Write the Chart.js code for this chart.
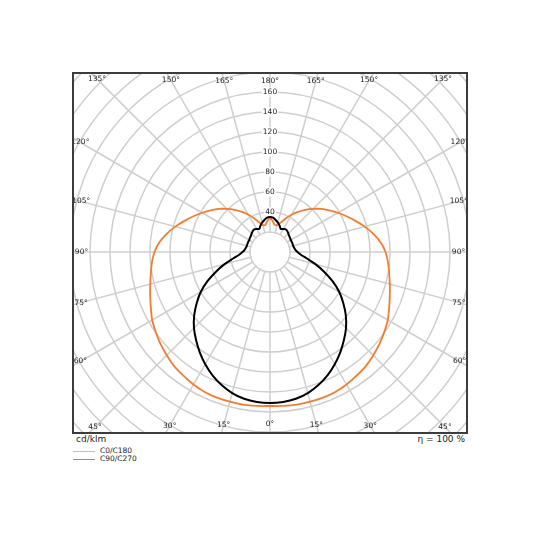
<!DOCTYPE html>
<html>
<head>
<meta charset="utf-8">
<script src="https://cdn.jsdelivr.net/npm/chart.js@4.4.0/dist/chart.umd.min.js"></script>
<style>
    body { margin: 0; width: 540px; height: 540px; background: #fff; position: relative; font-family: 'DejaVu Sans', sans-serif; color: #222; }
    #frame { position: absolute; left: 72px; top: 72px; width: 396px; height: 362px; box-sizing: border-box; border: 2px solid #3c3c3c; overflow: hidden; }
    #frame canvas { position: absolute; }
    .note { position: absolute; font-size: 9px; top: 434px; }
    .legend { position: absolute; left: 73px; top: 447px; font-size: 7.5px; line-height: 8.4px; }
    .legend div { display: flex; align-items: center; }
    .legend span.swatch { display: inline-block; width: 22px; height: 0; border-top: 1px solid; margin-right: 5px; }
</style>
</head>
<body>
<div id="frame"><canvas id="ldcChart" width="600" height="600"></canvas></div>
<div class="note" style="left:76px;">cd/klm</div>
<div class="note" style="right:75px;">η = 100 %</div>
<div class="legend">
    <div><span class="swatch" style="border-color:#f6b27e"></span>C0/C180</div>
    <div><span class="swatch" style="border-color:#7f92a8"></span>C90/C270</div>
</div>
<script>
// gamma angles 0..180 in 5 degree steps
const gammas = [0, 5, 10, 15, 20, 25, 30, 35, 40, 45, 50, 55, 60, 65, 70, 75, 80, 85, 90,
    95, 100, 105, 110, 115, 120, 125, 130, 135, 140, 145, 150, 155, 160, 165, 170, 175, 180];

// luminous intensity in cd/klm, one value per gamma angle
const c0c180 = [154, 154.5, 155, 155, 155, 154.5, 153, 151, 149, 146, 143, 139.5, 136, 131.5, 127.5, 124, 121, 118.5, 115.5,
    111, 105, 98, 91, 84.5, 78.5, 72.5, 67, 61, 55, 49, 43, 37, 31.5, 28, 27.5, 31, 34];
const c90c270 = [151, 150.5, 149, 146, 141.5, 136, 129.5, 122.5, 115, 107.5, 99, 89.5, 80, 69, 57.5, 47, 37.5, 31, 27.5,
    25.5, 24.5, 24, 24, 24, 24, 24.5, 25, 26, 27, 27.5, 26.5, 25.5, 28, 30.5, 32.5, 34.5, 35];

const tickValues = [40, 60, 80, 100, 120, 140, 160];
const labelStep = 15;
const holeValue = 20;

// frame inner box relative to the canvas (canvas centre sits on the polar centre)
const offsetX = 104, offsetY = 122, innerW = 392, innerH = 358;

document.addEventListener('DOMContentLoaded', function () {
    const canvas = document.getElementById('ldcChart');
    canvas.style.left = -offsetX + 'px';
    canvas.style.top = -offsetY + 'px';

    // right half runs 180 -> 0 (top to bottom), left half 5 -> 175 (bottom to top)
    const rightIdx = gammas.map((g, i) => i).reverse();
    const leftIdx = gammas.map((g, i) => i).slice(1, gammas.length - 1);
    const order = rightIdx.concat(leftIdx);
    const labels = order.map(i => gammas[i]);
    const build = arr => order.map(i => arr[i]);

    const holePlugin = {
        id: 'hole',
        beforeDatasetsDraw(chart) {
            const r = chart.scales.r;
            const ctx = chart.ctx;
            ctx.save();
            ctx.fillStyle = '#fff';
            ctx.beginPath();
            ctx.arc(r.xCenter, r.yCenter, r.getDistanceFromCenterForValue(holeValue) - 0.9, 0, Math.PI * 2);
            ctx.fill();
            ctx.restore();
        }
    };

    const edgeLabels = {
        id: 'edgeLabels',
        afterDraw(chart) {
            const r = chart.scales.r;
            const ctx = chart.ctx;
            const left = offsetX - 1, right = offsetX + innerW + 1;
            const top = offsetY - 1, bottom = offsetY + innerH + 1;
            ctx.save();
            ctx.font = '7.5px "DejaVu Sans"';
            ctx.fillStyle = '#222';
            ctx.textAlign = 'center';
            ctx.textBaseline = 'middle';
            labels.forEach((g, i) => {
                if (g % labelStep !== 0) return;
                const p = r.getPointPosition(i, 100);
                const dx = (p.x - r.xCenter) / 100, dy = (p.y - r.yCenter) / 100;
                let t = Infinity;
                if (dx > 1e-6) t = Math.min(t, (right - r.xCenter) / dx);
                if (dx < -1e-6) t = Math.min(t, (left - r.xCenter) / dx);
                if (dy > 1e-6) t = Math.min(t, (bottom - r.yCenter) / dy);
                if (dy < -1e-6) t = Math.min(t, (top - r.yCenter) / dy);
                t -= 8.5;
                ctx.fillText(g + '°', r.xCenter + dx * t, r.yCenter + dy * t);
            });
            ctx.restore();
        }
    };

    new Chart(canvas, {
        type: 'radar',
        data: {
            labels: labels,
            datasets: [{
                label: 'C0/C180',
                data: build(c0c180),
                borderColor: '#f47c30',
                borderWidth: 1.8,
                pointRadius: 0,
                fill: false,
                tension: 0.35,
                order: 1
            }, {
                label: 'C90/C270',
                data: build(c90c270),
                borderColor: '#000000',
                borderWidth: 2,
                pointRadius: 0,
                fill: false,
                tension: 0.3,
                order: 0
            }]
        },
        options: {
            responsive: false,
            animation: false,
            devicePixelRatio: 1,
            layout: { padding: 0 },
            plugins: {
                legend: { display: false },
                tooltip: { enabled: false }
            },
            scales: {
                r: {
                    min: 0,
                    max: 295,
                    startAngle: 0,
                    grid: {
                        circular: true,
                        color: '#cfcfcf',
                        lineWidth: 1.5
                    },
                    angleLines: {
                        display: true,
                        color: ctx => (labels[ctx.index] % labelStep === 0) ? '#cfcfcf' : 'transparent',
                        lineWidth: 1.5
                    },
                    pointLabels: { display: false },
                    ticks: {
                        stepSize: 20,
                        font: { family: "'DejaVu Sans', sans-serif", size: 7.5 },
                        color: '#222',
                        backdropPadding: { x: 1, y: 1 },
                        showLabelBackdrop: ctx => tickValues.includes(ctx.tick.value),
                        backdropColor: '#fff',
                        callback: v => tickValues.includes(v) ? String(v) : ''
                    }
                }
            }
        },
        plugins: [holePlugin, edgeLabels]
    });
});
</script>
</body>
</html>
